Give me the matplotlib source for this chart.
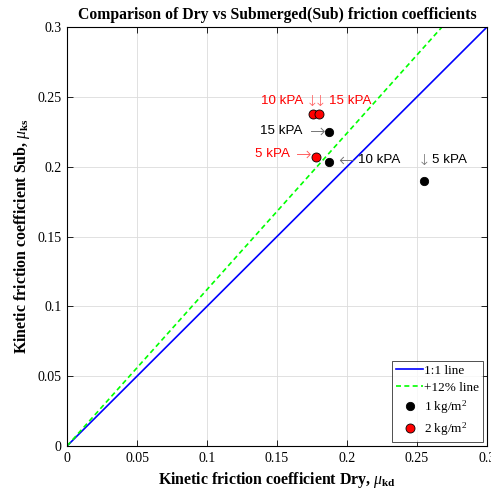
import matplotlib
matplotlib.use("Agg")
import matplotlib.pyplot as plt
import numpy as np

# Kinetic friction coefficients, dry vs submerged, at 5/10/15 kPa
pressures = ["5 kPA", "10 kPA", "15 kPA"]
dry_1kg = [0.255, 0.187, 0.187]
sub_1kg = [0.190, 0.203, 0.225]
dry_2kg = [0.178, 0.176, 0.180]
sub_2kg = [0.207, 0.238, 0.238]

ref_x = [0.0, 0.3]
plus_pct = 0.12

serif = "Liberation Serif"
plt.rcParams["font.family"] = [serif, "DejaVu Serif"]
plt.rcParams["mathtext.fontset"] = "custom"
plt.rcParams["mathtext.rm"] = serif
plt.rcParams["mathtext.it"] = serif + ":italic"
plt.rcParams["mathtext.bf"] = serif + ":bold"

fig = plt.figure(figsize=(4.91, 4.95), dpi=100)
ax = fig.add_axes([67 / 491, 1 - 446 / 495, 420 / 491, 419 / 495])

# reference lines
ax.plot(ref_x, ref_x, color="#0000ff", lw=1.2, label="1:1 line")
x12 = np.array(ref_x)
ax.plot(x12, x12 * (1 + plus_pct), color="#00ff00", lw=1.2, ls=(0, (3, 2)),
        label="+12% line")

ax.plot(dry_1kg, sub_1kg, "o", ms=6, mfc="black", mec="black", mew=0.6,
        label="1 kg/m$^2$")
ax.plot(dry_2kg, sub_2kg, "o", ms=6.5, mfc="red", mec="black", mew=0.6,
        label="2 kg/m$^2$")

sans = ["Liberation Sans", "DejaVu Sans"]
fs = 9.6
ARROWS = {"down": ("\u2193", 11), "left": ("\u2190", 13.5),
          "right": ("\u2192", 13.5)}


def note(x, y, label, text_off, ha, arrow, arrow_off, color, arrow_color):
    ax.annotate(label, (x, y), xytext=text_off, textcoords="offset pixels",
                ha=ha, va="center", color=color, fontsize=fs, family=sans)
    glyph, size = ARROWS[arrow]
    ax.annotate(glyph, (x, y), xytext=arrow_off,
                textcoords="offset pixels", ha="center", va="center",
                color=arrow_color, fontsize=size, family="DejaVu Sans",
                fontweight="light")


grey = "#6e6e6e"
pale_red = "#ff5a5a"
# 1 kg/m2 labels
note(dry_1kg[0], sub_1kg[0], pressures[0], (8, 21), "left",
     "down", (0, 20), "black", grey)
note(dry_1kg[1], sub_1kg[1], pressures[1], (29, 2), "left",
     "left", (17, 2), "black", grey)
note(dry_1kg[2], sub_1kg[2], pressures[2], (-26, 1), "right",
     "right", (-11, 1), "black", grey)
# 2 kg/m2 labels
note(dry_2kg[0], sub_2kg[0], pressures[0], (-26, 3), "right",
     "right", (-12, 3), "red", pale_red)
note(dry_2kg[1], sub_2kg[1], pressures[1], (-10, 13), "right",
     "down", (-1, 12), "red", pale_red)
note(dry_2kg[2], sub_2kg[2], pressures[2], (10, 13), "left",
     "down", (1, 12), "red", pale_red)

ax.set_xlim(0, 0.3)
ax.set_ylim(0, 0.3)
ticks = [0, 0.05, 0.1, 0.15, 0.2, 0.25, 0.3]
tick_labels = ["0", "0.05", "0.1", "0.15", "0.2", "0.25", "0.3"]
ax.set_xticks(ticks)
ax.set_xticklabels(tick_labels)
ax.set_yticks(ticks)
ax.set_yticklabels(tick_labels)
ax.tick_params(direction="in", length=4, width=0.6, top=True, right=True,
               labelsize=10, pad=4, colors="black")
ax.grid(True, color="#dcdcdc", lw=0.6)
ax.set_axisbelow(True)
for sp in ax.spines.values():
    sp.set_linewidth(0.8)

ax.set_title("Comparison of Dry vs Submerged(Sub) friction coefficients",
             fontsize=11.3, fontweight="bold", pad=6)
ax.set_xlabel(r"Kinetic friction coefficient Dry, $\mu_{\mathbf{kd}}$",
              fontsize=11.4, fontweight="bold", labelpad=4)
ax.set_ylabel(r"Kinetic friction coefficient Sub, $\mu_{\mathbf{ks}}$",
              fontsize=11.4, fontweight="bold", labelpad=4)

leg = ax.legend(loc="lower right", fontsize=9.5, frameon=True, fancybox=False,
                edgecolor="black", handlelength=2.0, handletextpad=0.1,
                borderpad=0.3, labelspacing=0.35, borderaxespad=0.3)
leg.get_frame().set_linewidth(0.6)

fig.savefig("out.png", dpi=100)
